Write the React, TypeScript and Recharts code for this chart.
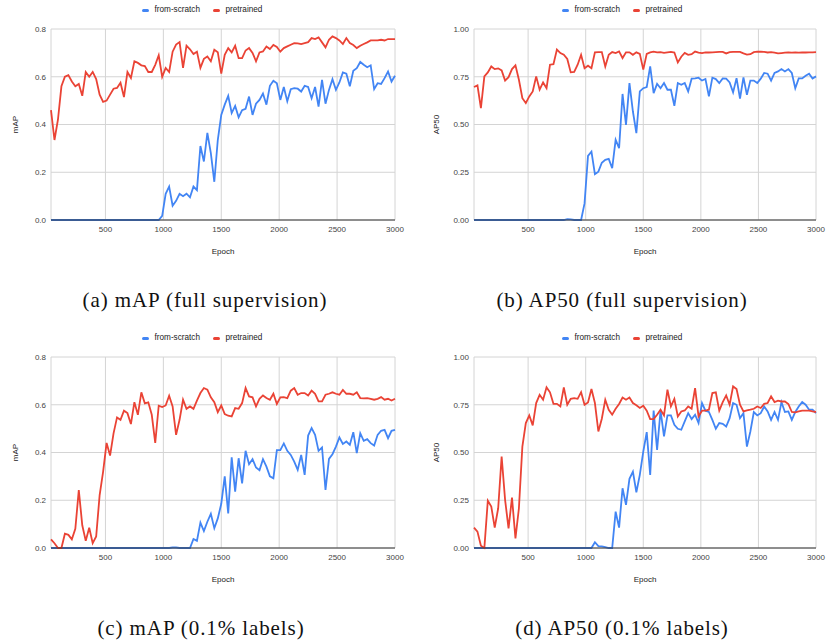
import React from 'react';
import { LineChart, Line, XAxis, YAxis, CartesianGrid } from 'recharts';

// x categories: evaluation epochs (every 30 epochs)
const EPOCHS: number[] = Array.from({ length: 100 }, (_, i) => 30 * (i + 1));

const SERIES_NAMES = ['from-scratch', 'pretrained'];
const X_TICKS = [500, 1000, 1500, 2000, 2500, 3000];
const MAP_TICKS = [0, 0.2, 0.4, 0.6, 0.8];
const AP50_TICKS = [0, 0.25, 0.5, 0.75, 1];
const CAPTIONS = [
  '(a) mAP (full supervision)',
  '(b) AP50 (full supervision)',
  '(c) mAP (0.1% labels)',
  '(d) AP50 (0.1% labels)',
];
const Y_LABELS = ['mAP', 'AP50', 'mAP', 'AP50'];

// (a) mAP, full supervision
const A_SCRATCH = [
  0, 0, 0, 0, 0, 0, 0, 0, 0, 0,
  0, 0, 0, 0, 0, 0, 0, 0, 0, 0,
  0, 0, 0, 0, 0, 0, 0, 0, 0, 0,
  0, 0, 0.017, 0.11, 0.14, 0.06, 0.08, 0.11, 0.1, 0.11,
  0.095, 0.14, 0.125, 0.31, 0.245, 0.365, 0.28, 0.16, 0.335, 0.44,
  0.483, 0.52, 0.448, 0.478, 0.43, 0.46, 0.466, 0.517, 0.44, 0.487,
  0.503, 0.53, 0.483, 0.562, 0.583, 0.573, 0.503, 0.557, 0.497, 0.548,
  0.552, 0.55, 0.538, 0.562, 0.557, 0.51, 0.557, 0.475, 0.587, 0.487,
  0.545, 0.59, 0.545, 0.576, 0.618, 0.613, 0.56, 0.625, 0.636, 0.662,
  0.65, 0.64, 0.648, 0.548, 0.573, 0.57, 0.594, 0.622, 0.58, 0.604,
];
const A_PRETRAINED = [
  0.46, 0.335, 0.42, 0.56, 0.6, 0.607, 0.58, 0.56, 0.57, 0.52,
  0.62, 0.6, 0.62, 0.59, 0.525, 0.495, 0.5, 0.525, 0.55, 0.553,
  0.575, 0.515, 0.62, 0.595, 0.665, 0.658, 0.648, 0.645, 0.62, 0.62,
  0.65, 0.69, 0.6, 0.637, 0.62, 0.705, 0.735, 0.745, 0.637, 0.73,
  0.715, 0.695, 0.705, 0.637, 0.675, 0.685, 0.665, 0.713, 0.703, 0.613,
  0.692, 0.72, 0.702, 0.73, 0.678, 0.678, 0.71, 0.72, 0.7, 0.665,
  0.702, 0.706, 0.727, 0.716, 0.733, 0.725, 0.705, 0.72, 0.727, 0.734,
  0.741, 0.74, 0.737, 0.741, 0.745, 0.762, 0.758, 0.765, 0.744, 0.723,
  0.755, 0.769, 0.762, 0.752, 0.737, 0.762, 0.741, 0.733, 0.72, 0.73,
  0.737, 0.744, 0.752, 0.752, 0.752, 0.755, 0.752, 0.758, 0.758, 0.758,
];

// (b) AP50, full supervision
const B_SCRATCH = [
  0, 0, 0, 0, 0, 0, 0, 0, 0, 0,
  0, 0, 0, 0, 0, 0, 0, 0, 0, 0,
  0, 0, 0, 0, 0, 0, 0, 0.005, 0.003, 0,
  0, 0, 0.087, 0.336, 0.358, 0.24, 0.253, 0.3, 0.315, 0.32,
  0.271, 0.42, 0.376, 0.66, 0.498, 0.717, 0.568, 0.455, 0.673, 0.69,
  0.696, 0.804, 0.664, 0.713, 0.69, 0.717, 0.682, 0.682, 0.598, 0.717,
  0.708, 0.717, 0.673, 0.74, 0.741, 0.745, 0.73, 0.738, 0.647, 0.745,
  0.738, 0.717, 0.741, 0.74, 0.72, 0.668, 0.743, 0.635, 0.747, 0.655,
  0.73, 0.73, 0.717, 0.74, 0.77, 0.766, 0.73, 0.77, 0.778, 0.79,
  0.778, 0.79, 0.77, 0.69, 0.741, 0.741, 0.755, 0.766, 0.741, 0.752,
];
const B_PRETRAINED = [
  0.696, 0.705, 0.586, 0.752, 0.773, 0.804, 0.79, 0.794, 0.783, 0.73,
  0.748, 0.79, 0.81, 0.734, 0.638, 0.612, 0.647, 0.673, 0.752, 0.682,
  0.72, 0.69, 0.813, 0.816, 0.892, 0.874, 0.865, 0.843, 0.773, 0.775,
  0.813, 0.865, 0.795, 0.808, 0.795, 0.878, 0.879, 0.879, 0.804, 0.865,
  0.879, 0.874, 0.883, 0.848, 0.878, 0.878, 0.865, 0.878, 0.87, 0.787,
  0.87, 0.878, 0.881, 0.878, 0.879, 0.875, 0.878, 0.88, 0.877, 0.825,
  0.855, 0.875, 0.865, 0.868, 0.882, 0.876, 0.874, 0.878, 0.877, 0.878,
  0.879, 0.88, 0.88, 0.872, 0.879, 0.88, 0.88, 0.88, 0.872, 0.866,
  0.868, 0.879, 0.882, 0.881, 0.88, 0.877, 0.879, 0.876, 0.872, 0.874,
  0.876, 0.877, 0.876, 0.877, 0.876, 0.878, 0.877, 0.878, 0.878, 0.879,
];

// (c) mAP, 0.1% labels
const C_SCRATCH = [
  0, 0, 0, 0, 0, 0, 0, 0, 0, 0,
  0, 0, 0, 0, 0, 0, 0, 0, 0, 0,
  0, 0, 0, 0, 0, 0, 0, 0, 0, 0,
  0, 0, 0, 0, 0, 0.002, 0.002, 0, 0, 0,
  0, 0.038, 0.03, 0.106, 0.071, 0.11, 0.143, 0.083, 0.124, 0.185,
  0.3, 0.145, 0.38, 0.236, 0.376, 0.271, 0.407, 0.351, 0.372, 0.337,
  0.326, 0.372, 0.341, 0.3, 0.292, 0.41, 0.41, 0.438, 0.407, 0.39,
  0.362, 0.327, 0.39, 0.306, 0.471, 0.502, 0.474, 0.407, 0.421, 0.243,
  0.373, 0.393, 0.425, 0.463, 0.436, 0.446, 0.432, 0.485, 0.397, 0.481,
  0.449, 0.456, 0.439, 0.429, 0.474, 0.491, 0.495, 0.46, 0.491, 0.495,
];
const C_PRETRAINED = [
  0.036, 0.02, 0, 0, 0.06, 0.055, 0.036, 0.08, 0.243, 0.095,
  0.03, 0.085, 0.02, 0.048, 0.222, 0.32, 0.44, 0.387, 0.48, 0.547,
  0.537, 0.575, 0.565, 0.519, 0.611, 0.558, 0.652, 0.606, 0.61, 0.558,
  0.44, 0.596, 0.59, 0.597, 0.638, 0.593, 0.474, 0.537, 0.621, 0.583,
  0.593, 0.583, 0.617, 0.649, 0.67, 0.663, 0.631, 0.611, 0.569, 0.597,
  0.561, 0.554, 0.551, 0.586, 0.583, 0.607, 0.67, 0.635, 0.631, 0.593,
  0.625, 0.639, 0.628, 0.621, 0.646, 0.603, 0.631, 0.632, 0.628, 0.659,
  0.67, 0.642, 0.649, 0.649, 0.639, 0.659, 0.646, 0.614, 0.614, 0.642,
  0.646, 0.652, 0.646, 0.642, 0.662, 0.646, 0.646, 0.642, 0.652, 0.628,
  0.627, 0.628, 0.625, 0.621, 0.625, 0.632, 0.621, 0.625, 0.618, 0.625,
];

// (d) AP50, 0.1% labels
const D_SCRATCH = [
  0, 0, 0, 0, 0, 0, 0, 0, 0, 0,
  0, 0, 0, 0, 0, 0, 0, 0, 0, 0,
  0, 0, 0, 0, 0, 0, 0, 0, 0, 0,
  0, 0, 0, 0, 0, 0.03, 0.01, 0.008, 0.005, 0,
  0, 0.19, 0.107, 0.313, 0.226, 0.362, 0.4, 0.292, 0.383, 0.505,
  0.607, 0.383, 0.719, 0.514, 0.719, 0.584, 0.694, 0.694, 0.645, 0.624,
  0.619, 0.663, 0.706, 0.675, 0.698, 0.654, 0.759, 0.719, 0.712, 0.671,
  0.624, 0.654, 0.65, 0.636, 0.68, 0.759, 0.75, 0.68, 0.706, 0.531,
  0.61, 0.712, 0.694, 0.706, 0.741, 0.715, 0.671, 0.712, 0.671, 0.764,
  0.712, 0.715, 0.671, 0.712, 0.741, 0.764, 0.75, 0.724, 0.724, 0.706,
];
const D_PRETRAINED = [
  0.107, 0.086, 0.012, 0, 0.248, 0.217, 0.107, 0.208, 0.479, 0.252,
  0.103, 0.264, 0.05, 0.208, 0.531, 0.654, 0.694, 0.642, 0.759, 0.802,
  0.776, 0.841, 0.815, 0.755, 0.755, 0.741, 0.841, 0.75, 0.781, 0.785,
  0.781, 0.816, 0.75, 0.762, 0.832, 0.759, 0.61, 0.677, 0.776, 0.724,
  0.698, 0.729, 0.754, 0.788, 0.776, 0.788, 0.759, 0.747, 0.733, 0.745,
  0.719, 0.675, 0.675, 0.698, 0.724, 0.694, 0.829, 0.741, 0.781, 0.689,
  0.715, 0.72, 0.741, 0.729, 0.837, 0.689, 0.719, 0.719, 0.724, 0.811,
  0.815, 0.719, 0.764, 0.799, 0.75, 0.846, 0.832, 0.75, 0.715, 0.72,
  0.724, 0.729, 0.741, 0.733, 0.755, 0.759, 0.794, 0.764, 0.771, 0.767,
  0.767, 0.754, 0.712, 0.71, 0.715, 0.719, 0.719, 0.719, 0.715, 0.712,
];

const BLUE = '#4285F4';
const RED = '#EA4335';
const COLORS = [BLUE, RED];
const SANS = '"Liberation Sans", Arial, sans-serif';
const SERIF = '"Liberation Serif", "Times New Roman", serif';

function makeRows(scratch: number[], pretrained: number[]) {
  return EPOCHS.map((epoch, i) => ({ epoch, scratch: scratch[i], pretrained: pretrained[i] }));
}

type PanelProps = {
  left: number;
  top: number;
  width: number;
  yWidth: number;
  marginRight: number;
  rows: { epoch: number; scratch: number; pretrained: number }[];
  ticks: number[];
  decimals: number;
  yLabel: string;
  yLabelX: number;
  legendLeft: number;
};

function Panel(p: PanelProps) {
  const plotTop = 29;
  const plotBottom = 220;
  const yMid = (plotTop + plotBottom) / 2;
  return (
    <div style={{ position: 'absolute', left: p.left, top: p.top, width: p.width, height: 260, fontFamily: SANS }}>
      <LineChart
        width={p.width}
        height={260}
        data={p.rows}
        margin={{ top: plotTop, right: p.marginRight, bottom: 0, left: 0 }}
      >
        <CartesianGrid stroke="#d4d4d4" strokeWidth={1} />
        <XAxis
          dataKey="epoch"
          type="number"
          domain={[30, 3000]}
          ticks={X_TICKS}
          height={40}
          tickLine={false}
          tickSize={4}
          tickMargin={2}
          axisLine={{ stroke: '#333' }}
          tick={{ fontSize: 8, fill: '#444' }}
          label={{ value: 'Epoch', position: 'insideBottom', offset: 6, fontSize: 8, fill: '#222' }}
        />
        <YAxis
          type="number"
          domain={[p.ticks[0], p.ticks[p.ticks.length - 1]]}
          ticks={p.ticks}
          width={p.yWidth}
          tickLine={false}
          tickSize={3}
          tickMargin={2}
          axisLine={false}
          tick={{ fontSize: 8, fill: '#444' }}
          tickFormatter={(v: number) => v.toFixed(p.decimals)}
          label={{
            content: () => (
              <text
                x={p.yLabelX}
                y={yMid}
                transform={`rotate(-90 ${p.yLabelX} ${yMid})`}
                textAnchor="middle"
                dominantBaseline="central"
                fontSize={8}
                fill="#222"
              >
                {p.yLabel}
              </text>
            ),
          }}
        />
        <Line type="linear" dataKey="scratch" name={SERIES_NAMES[0]} stroke={BLUE} strokeWidth={1.8} dot={false} isAnimationActive={false} />
        <Line type="linear" dataKey="pretrained" name={SERIES_NAMES[1]} stroke={RED} strokeWidth={1.8} dot={false} isAnimationActive={false} />
      </LineChart>
      <div
        style={{
          position: 'absolute',
          left: p.legendLeft,
          top: 5,
          display: 'flex',
          alignItems: 'center',
          fontSize: 8.2,
          lineHeight: '10px',
          color: '#222',
          whiteSpace: 'nowrap',
        }}
      >
        {SERIES_NAMES.map((n, i) => (
          <div key={n} style={{ display: 'flex', alignItems: 'center', marginRight: i === 0 ? 12.5 : 0 }}>
            <span style={{ display: 'inline-block', width: 7, height: 3, borderRadius: 1.5, background: COLORS[i], marginRight: 6 }} />
            <span>{n}</span>
          </div>
        ))}
      </div>
    </div>
  );
}

function Caption({ cx, cy, text }: { cx: number; cy: number; text: string }) {
  return (
    <div
      style={{
        position: 'absolute',
        left: cx - 200,
        top: cy - 14,
        width: 400,
        height: 28,
        lineHeight: '28px',
        textAlign: 'center',
        fontFamily: SERIF,
        fontSize: 21,
        letterSpacing: 0.9,
        color: '#111',
        whiteSpace: 'nowrap',
      }}
    >
      {text}
    </div>
  );
}

export default function App() {
  return (
    <div style={{ position: 'absolute', left: 0, top: 0, width: 826, height: 643, background: '#fff', overflow: 'hidden' }}>
      <Panel left={0} top={0} width={410} yWidth={51} marginRight={15} rows={makeRows(A_SCRATCH, A_PRETRAINED)} ticks={MAP_TICKS} decimals={1} yLabel={Y_LABELS[0]} yLabelX={15} legendLeft={141.5} />
      <Panel left={410} top={0} width={416} yWidth={64} marginRight={10} rows={makeRows(B_SCRATCH, B_PRETRAINED)} ticks={AP50_TICKS} decimals={2} yLabel={Y_LABELS[1]} yLabelX={26.5} legendLeft={151.5} />
      <Panel left={0} top={328} width={410} yWidth={51} marginRight={15} rows={makeRows(C_SCRATCH, C_PRETRAINED)} ticks={MAP_TICKS} decimals={1} yLabel={Y_LABELS[2]} yLabelX={15} legendLeft={141.5} />
      <Panel left={410} top={328} width={416} yWidth={64} marginRight={10} rows={makeRows(D_SCRATCH, D_PRETRAINED)} ticks={AP50_TICKS} decimals={2} yLabel={Y_LABELS[3]} yLabelX={26.5} legendLeft={151.5} />
      <Caption cx={205} cy={300} text={CAPTIONS[0]} />
      <Caption cx={622} cy={300} text={CAPTIONS[1]} />
      <Caption cx={201} cy={628} text={CAPTIONS[2]} />
      <Caption cx={622} cy={628} text={CAPTIONS[3]} />
    </div>
  );
}
